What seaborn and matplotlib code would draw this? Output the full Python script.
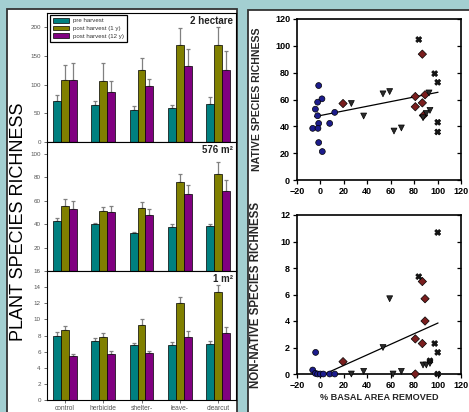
import matplotlib
matplotlib.use('Agg')

import numpy as np
import pandas as pd
import matplotlib.pyplot as plt
import matplotlib.lines as mlines
from matplotlib.patches import Rectangle
import seaborn as sns

# ----------------------------------------------------
# data: bar charts (left panel)
# ----------------------------------------------------
treatments = ['control', 'herbicide', 'shelter-', 'leave-', 'clearcut']
periods = ['pre harvest', 'post harvest (1 y)', 'post harvest (12 y)']
period_colors = ['#008080', '#808000', '#800080']

ha2_pre = [72, 65, 56, 60, 66]
ha2_post1 = [108, 107, 125, 170, 170]
ha2_post12 = [108, 87, 98, 133, 126]
ha2_pre_err = [10, 7, 7, 5, 13]
ha2_post1_err = [26, 30, 21, 28, 31]
ha2_post12_err = [30, 19, 12, 30, 32]

m576_pre = [43, 40, 32.5, 37.5, 38.5]
m576_post1 = [55.5, 51, 53.5, 76, 83]
m576_post12 = [53, 50.5, 48, 65.5, 68]
m576_pre_err = [2.5, 1, 1, 3, 2]
m576_post1_err = [6, 4, 5.5, 6.5, 10]
m576_post12_err = [6.5, 5, 4.5, 7.5, 9.5]

m1_pre = [8.0, 7.3, 6.8, 6.8, 6.9]
m1_post1 = [8.7, 7.8, 9.3, 12.0, 13.4]
m1_post12 = [5.4, 5.7, 5.8, 7.8, 8.3]
m1_pre_err = [0.4, 0.4, 0.25, 0.45, 0.4]
m1_post1_err = [0.45, 0.45, 0.7, 0.75, 0.9]
m1_post12_err = [0.3, 0.4, 0.3, 0.7, 0.7]

# ----------------------------------------------------
# data: scatter plots (right panel)
# ----------------------------------------------------
groups = ['control', 'herbicide', 'shelterwood', 'clearcut']
group_colors = {'control': '#1c1c8c', 'herbicide': '#7a1e1e',
                'shelterwood': '#2b2b2b', 'clearcut': '#151515'}
group_markers = {'control': 'o', 'herbicide': 'D', 'shelterwood': 'v', 'clearcut': 'X'}

nat_control_x = [-1.5, 1.3, -2.4, -4.3, -2.4, -1.5, 12.2, 7.9, -6.6, -2.1, -1.5, 1.6]
nat_control_y = [70.4, 60.5, 58.0, 52.8, 47.9, 42.2, 50.4, 42.2, 38.5, 38.5, 27.9, 21.2]
nat_herb_x = [19.3, 81.0, 81.0, 87.0, 87.0, 89.3, 87.9]
nat_herb_y = [57.0, 62.2, 54.6, 93.8, 57.5, 63.5, 48.1]
nat_shelter_x = [26.4, 36.9, 53.4, 59.1, 62.8, 69.1, 92.7, 93.5, 87.6, 90.4]
nat_shelter_y = [57.0, 47.7, 64.2, 65.9, 36.5, 38.8, 64.9, 51.9, 46.4, 49.6]
nat_clear_x = [83.9, 97.5, 100.1, 100.1, 100.1]
nat_clear_y = [104.7, 79.3, 72.8, 43.0, 35.8]
nat_fit_x = [-5, 100.4]
nat_fit_y = [47.2, 65.4]

non_control_x = [-4.1, -6.6, -4.3, -2.4, -0.1, 2.5, 7.9, 12.2]
non_control_y = [1.63, 0.3, 0.05, 0, 0, 0, 0, 0]
non_herb_x = [19.3, 81.0, 87.0, 89.3, 89.3, 87.0, 81.0]
non_herb_y = [0.93, 2.65, 2.3, 4.0, 5.68, 6.98, 0]
non_shelter_x = [26.4, 36.9, 53.4, 59.1, 62.0, 69.1, 87.6, 90.4, 93.5]
non_shelter_y = [0, 0.2, 2.0, 5.68, 0, 0.2, 0.68, 0.68, 0.8]
non_clear_x = [83.9, 100.1, 97.5, 100.1, 93.5, 100.1]
non_clear_y = [7.35, 10.68, 2.3, 1.63, 1.0, 0]
non_fit_x = [-5, 100.4]
non_fit_y = [-0.34, 3.85]

# ----------------------------------------------------
# figure setup
# ----------------------------------------------------
sns.set_style('white')
plt.rcParams['font.family'] = ['Liberation Sans', 'DejaVu Sans']

W, H = 469, 412
fig = plt.figure(figsize=(W / 100, H / 100), dpi=100, facecolor='#a3cfd1')


def fx(px):
    return px / W


def fy(py):
    return 1 - py / H


# white panel boxes
fig.add_artist(Rectangle((fx(6.5), fy(420)), fx(237) - fx(6.5), fy(8.5) - fy(420),
                         transform=fig.transFigure, facecolor='white',
                         edgecolor='#333333', lw=1.3, zorder=-1))
fig.add_artist(Rectangle((fx(248), fy(420)), fx(480) - fx(248), fy(10) - fy(420),
                         transform=fig.transFigure, facecolor='white',
                         edgecolor='#333333', lw=1.3, zorder=-1))

# ----------------------------------------------------
# left: three stacked bar charts
# ----------------------------------------------------
bar_panels = [
    ('2 hectare', [ha2_pre, ha2_post1, ha2_post12],
     [ha2_pre_err, ha2_post1_err, ha2_post12_err], 225, np.arange(0, 201, 50), 13, 142),
    ('576 m²', [m576_pre, m576_post1, m576_post12],
     [m576_pre_err, m576_post1_err, m576_post12_err], 110, np.arange(20, 101, 20), 142, 271),
    ('1 m²', [m1_pre, m1_post1, m1_post12],
     [m1_pre_err, m1_post1_err, m1_post12_err], 16, np.arange(0, 17, 2), 271, 400),
]

for i, (title, means, errs, ytop, yticks, top_px, bot_px) in enumerate(bar_panels):
    ax = fig.add_axes([fx(47), fy(bot_px), fx(236) - fx(47), fy(top_px) - fy(bot_px)])
    rows = []
    for p, vals in zip(periods, means):
        for t, v in zip(treatments, vals):
            rows.append({'treatment': t, 'period': p, 'richness': v})
    df = pd.DataFrame(rows)
    sns.barplot(data=df, x='treatment', y='richness', hue='period',
                order=treatments, hue_order=periods, palette=period_colors,
                saturation=1, edgecolor='black', linewidth=0.5, width=0.62,
                errorbar=None, legend=False, ax=ax)
    for cont, e in zip(ax.containers, errs):
        xs = [b.get_x() + b.get_width() / 2 for b in cont]
        hs = [b.get_height() for b in cont]
        ax.errorbar(xs, hs, yerr=[np.zeros(len(e)), e], fmt='none', ecolor='#808080',
                    elinewidth=0.9, capsize=1.6, capthick=0.9, zorder=0.8)
    ax.set_xlim(-0.47, 4.47)
    ax.set_ylim(0, ytop)
    ax.set_yticks(yticks)
    ax.set_xlabel('')
    ax.set_ylabel('')
    for s in ax.spines.values():
        s.set_color('black')
        s.set_linewidth(0.8)
    ax.tick_params(axis='y', left=True, length=2.5, width=0.6, pad=2,
                   labelsize=4.5, labelcolor='#555555', color='#555555')
    ax.tick_params(axis='x', bottom=True, length=2, width=0.6, pad=1.5,
                   labelsize=4.8, labelcolor='#555555', color='#555555')
    if i < 2:
        ax.tick_params(axis='x', labelbottom=False)
    ax.text(0.985, 0.975, title, transform=ax.transAxes, ha='right', va='top',
            fontsize=7, fontweight='bold', color='#222222')
    if i == 0:
        handles = [Rectangle((0, 0), 1, 1, facecolor=c, edgecolor='black', lw=0.5)
                   for c in period_colors]
        leg = ax.legend(handles, periods, loc='upper left', bbox_to_anchor=(0.015, 0.985),
                        borderaxespad=0, fontsize=4.4, handlelength=2.7, handleheight=0.8,
                        labelspacing=0.35, handletextpad=0.6, borderpad=0.5,
                        fancybox=False, framealpha=1, edgecolor='black')
        leg.get_frame().set_linewidth(0.9)
        for txt in leg.get_texts():
            txt.set_color('#333333')

fig.text(fx(18.5), fy(222), 'PLANT SPECIES RICHNESS', rotation=90,
         ha='center', va='center', fontsize=13, color='black')

# ----------------------------------------------------
# right: two scatter plots
# ----------------------------------------------------
scatter_panels = [
    ('NATIVE SPECIES RICHNESS', 7.6,
     [(nat_control_x, nat_control_y), (nat_herb_x, nat_herb_y),
      (nat_shelter_x, nat_shelter_y), (nat_clear_x, nat_clear_y)],
     nat_fit_x, nat_fit_y, 120, np.arange(0, 121, 20), 19, 180),
    ('NON-NATIVE SPECIES RICHNESS', 8.3,
     [(non_control_x, non_control_y), (non_herb_x, non_herb_y),
      (non_shelter_x, non_shelter_y), (non_clear_x, non_clear_y)],
     non_fit_x, non_fit_y, 12, np.arange(0, 13, 2), 215, 374),
]

for j, (ylab, ylab_size, pts, fit_x, fit_y, ytop, yticks, top_px, bot_px) in enumerate(scatter_panels):
    ax = fig.add_axes([fx(297), fy(bot_px), fx(461) - fx(297), fy(top_px) - fy(bot_px)])
    rows = []
    for g, (xs, ys) in zip(groups, pts):
        for xv, yv in zip(xs, ys):
            rows.append({'removed': xv, 'richness': yv, 'group': g})
    sdf = pd.DataFrame(rows)
    ax.plot(fit_x, fit_y, color='black', lw=0.9, zorder=2)
    sns.scatterplot(data=sdf, x='removed', y='richness', hue='group', style='group',
                    hue_order=groups, style_order=groups, palette=group_colors,
                    markers=group_markers, s=18, edgecolor='black', linewidth=0.5,
                    legend=False, clip_on=False, zorder=3, ax=ax)
    ax.set_xlim(-20, 120)
    ax.set_ylim(0, ytop)
    ax.set_xticks(np.arange(-20, 121, 20))
    ax.set_yticks(yticks)
    for s in ax.spines.values():
        s.set_color('black')
        s.set_linewidth(1.2)
    ax.tick_params(axis='both', direction='out', length=3, width=0.9,
                   labelsize=6.5, pad=2, colors='black')
    ax.tick_params(axis='y', left=True, right=True)
    ax.tick_params(axis='x', bottom=True)
    for tk in ax.yaxis.get_major_ticks():
        tk.tick2line.set_marker(mlines.TICKLEFT)
    plt.setp(ax.get_xticklabels(), fontweight='bold')
    plt.setp(ax.get_yticklabels(), fontweight='bold')
    ax.set_ylabel(ylab, fontsize=ylab_size, fontweight='bold')
    ax.yaxis.set_label_coords(-0.215, 0.5)
    if j == 1:
        ax.set_xlabel('% BASAL AREA REMOVED', fontsize=6.6, fontweight='bold', labelpad=2)
    else:
        ax.set_xlabel('')

fig.savefig('out.png', dpi=100, facecolor=fig.get_facecolor())
